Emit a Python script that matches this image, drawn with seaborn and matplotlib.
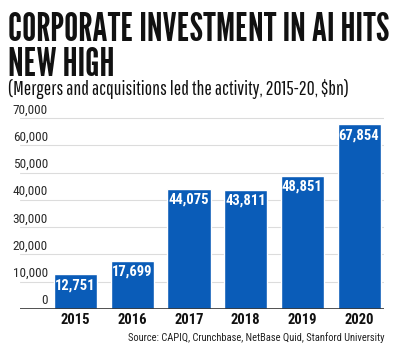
import matplotlib
matplotlib.use("Agg")
import matplotlib.pyplot as plt
import seaborn as sns
import pandas as pd

years = ["2015", "2016", "2017", "2018", "2019", "2020"]
values = [12751, 17699, 44075, 43811, 48851, 67854]
yticks = [0, 10000, 20000, 30000, 40000, 50000, 60000, 70000]

title_lines = ["CORPORATE INVESTMENT IN AI HITS", "NEW HIGH"]
subtitle = "(Mergers and acquisitions led the activity, 2015-20, $bn)"
source = "Source: CAPIQ, Crunchbase, NetBase Quid, Stanford University"

BLUE = "#0a5cb8"
BODY = ["Roboto Condensed", "DejaVu Sans"]
HEAD = ["League Gothic", "DejaVu Sans"]
SUB = ["Pathway Gothic One", "Roboto Condensed", "DejaVu Sans"]

sns.set_style("white")
plt.rcParams["font.family"] = BODY

df = pd.DataFrame({"year": years, "value": values})

fig = plt.figure(figsize=(4.0, 3.55), dpi=100)
ax = fig.add_axes([0.05, 0.1296, 0.91, 0.566])

sns.barplot(data=df, x="year", y="value", color=BLUE, width=0.76,
            saturation=1, ax=ax, zorder=3)

ax.set_xlim(-0.98, 5.44)
ax.set_ylim(0, 73700)
for v in yticks[1:]:
    ax.axhline(v, color="#dcdcdc", linewidth=0.8, zorder=1)
ax.axhline(0, color="#333333", linewidth=1.2, zorder=4)

for v in yticks:
    ax.annotate(f"{v:,}", xy=(0.077, v), xycoords=("axes fraction", "data"),
                xytext=(0, 6), textcoords="offset points",
                ha="right", va="center", fontsize=9.5, color="#2a2a2a")

for i, v in enumerate(values):
    ax.annotate(f"{v:,}", xy=(i, v), xytext=(0, -8), textcoords="offset points",
                ha="center", va="center", fontsize=10.5, fontweight="bold", color="white",
                zorder=5)

ax.set_yticks([])
ax.set_xlabel("")
ax.set_ylabel("")
ax.tick_params(axis="x", length=0, pad=3)
for lbl in ax.get_xticklabels():
    lbl.set_fontsize(10.5)
    lbl.set_fontweight("bold")
    lbl.set_color("#111111")
sns.despine(ax=ax, left=True, bottom=True)


def fit_text(t, width_px):
    # shrink/grow a text so it spans the given width in pixels
    r = fig.canvas.get_renderer()
    w = t.get_window_extent(renderer=r).width
    t.set_fontsize(t.get_fontsize() * width_px / w)


t1 = fig.text(0.02, 0.965, title_lines[0], ha="left", va="top",
              fontsize=30, family=HEAD, color="#111111")
fit_text(t1, 380)
t2 = fig.text(0.02, 0.868, title_lines[1], ha="left", va="top",
              fontsize=t1.get_fontsize(), family=HEAD, color="#111111")
t3 = fig.text(0.02, 0.748, subtitle, ha="left", va="center", fontsize=14,
              family=SUB, color="#111111")
fit_text(t3, 342)
t4 = fig.text(0.96, 0.05, source, ha="right", va="center", fontsize=9.5, color="#222222")
fit_text(t4, 258)

fig.savefig("out.png", dpi=100)
